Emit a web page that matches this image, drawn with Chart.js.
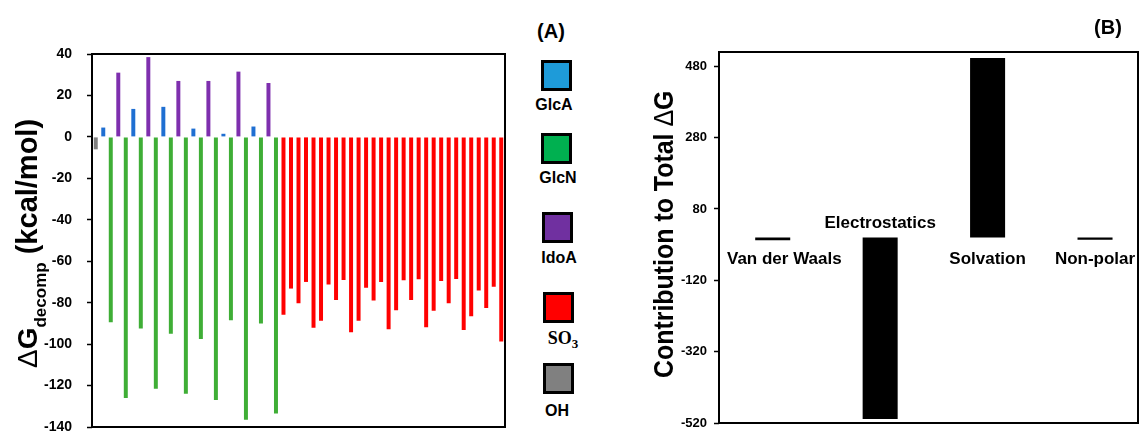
<!DOCTYPE html>
<html><head><meta charset="utf-8">
<script src="https://cdn.jsdelivr.net/npm/chart.js@4.4.0/dist/chart.umd.min.js"></script>
<style>
html,body{margin:0;padding:0;background:#fff;width:1139px;height:432px;overflow:hidden;position:relative;font-family:Arial,"Liberation Sans",sans-serif;}
canvas{position:absolute;top:0;}
#ca{left:0;}
#cb{left:630px;}
.panel{position:absolute;font-weight:bold;font-size:20px;transform:translate(-50%,-50%);color:#000;}
.sw{position:absolute;width:25px;height:25px;border:3px solid #000;}
.lb{position:absolute;font-weight:bold;font-size:16px;transform:translate(-50%,-50%);white-space:nowrap;color:#000;}
.lb.serif{font-family:"Liberation Serif","DejaVu Serif",serif;font-size:18px;}
</style></head>
<body>
<canvas id="ca" width="520" height="432"></canvas>
<canvas id="cb" width="509" height="432"></canvas>
<div id="legend"></div>
<div class="panel" style="left:551px;top:31px;">(A)</div>
<div class="panel" style="left:1108px;top:27px;">(B)</div>
<script>
// ---------- Panel A data ----------
const residueTypes = ['OH','GlcA','GlcN','IdoA','GlcN','GlcA','GlcN','IdoA','GlcN','GlcA','GlcN','IdoA','GlcN','GlcA','GlcN','IdoA','GlcN','GlcA','GlcN','IdoA','GlcN','GlcA','GlcN','IdoA','GlcN'];
const residueValues = [-6, 4.5, -89.5, 31, -126, 13.5, -92.5, 38.5, -121.5, 14.5, -95, 27, -124, 4, -97.5, 27, -127, 1.5, -88.5, 31.5, -136.5, 5, -90, 26, -133.5];
const sulfateValues = [-85.8, -73.2, -80.3, -70, -92.1, -88.7, -71.2, -78.7, -69.1, -94.3, -88.7, -72.8, -79, -70, -92.8, -83.6, -69.2, -78.7, -68.7, -91.9, -83.9, -69.6, -80.3, -68.6, -93.2, -86.6, -74.1, -82.6, -72.3, -98.8];
const yTicksA = [40, 20, 0, -20, -40, -60, -80, -100, -120, -140];
const legendNames = ['GlcA', 'GlcN', 'IdoA', 'SO3', 'OH'];

// ---------- Panel B data ----------
const termLabels = ['Van der Waals', 'Electrostatics', 'Solvation', 'Non-polar'];
const termValues = [-8, -509, 503, -6];
const yTicksB = [480, 280, 80, -120, -320, -520];
const termLabelAbove = [false, true, false, false];

// ---------- styles ----------
const FONT = 'Arial, "Liberation Sans", sans-serif';
const barColors = {GlcA:'#1f6fd2', GlcN:'#3fae36', IdoA:'#7e2fae', SO3:'#ff0000', OH:'#7f7f7f'};
const legendColors = {GlcA:'#1e9bd9', GlcN:'#00b050', IdoA:'#7030a0', SO3:'#ff0000', OH:'#808080'};

// legend
const legendBoxes = [[541,60],[541,133],[542,212],[543,292],[543,363]];
const legendText = [[554,105],[558,178],[559,258],[563,340],[557,411]];
const legendEl = document.getElementById('legend');
legendNames.forEach((n, i) => {
  const s = document.createElement('div');
  s.className = 'sw';
  s.style.left = legendBoxes[i][0] + 'px';
  s.style.top = legendBoxes[i][1] + 'px';
  s.style.background = legendColors[n];
  legendEl.appendChild(s);
  const t = document.createElement('div');
  t.className = 'lb' + (n === 'SO3' ? ' serif' : '');
  t.style.left = legendText[i][0] + 'px';
  t.style.top = legendText[i][1] + 'px';
  if (n === 'SO3') t.innerHTML = 'SO<sub style="font-size:13px;">3</sub>';
  else t.textContent = n;
  legendEl.appendChild(t);
});

const allTypes = residueTypes.concat(sulfateValues.map(() => 'SO3'));
const allValues = residueValues.concat(sulfateValues);

const boxPlugin = {
  id: 'box',
  afterDraw(chart) {
    const a = chart.chartArea, ctx = chart.ctx;
    ctx.save();
    ctx.strokeStyle = '#000';
    ctx.lineWidth = 2;
    ctx.strokeRect(a.left, a.top, a.right - a.left, a.bottom - a.top);
    ctx.restore();
  }
};

function drawRotated(ctx, cx, cy, parts, sx) {
  ctx.save();
  ctx.translate(cx, cy);
  ctx.rotate(-Math.PI / 2);
  ctx.scale(sx, 1);
  ctx.fillStyle = '#000';
  ctx.textBaseline = 'alphabetic';
  ctx.textAlign = 'left';
  let u = 0;
  parts.forEach(p => {
    ctx.font = p.font;
    ctx.fillText(p.t, u, p.v);
    u += ctx.measureText(p.t).width;
  });
  ctx.restore();
}

const titleA = {
  id: 'titleA',
  afterDraw(chart) {
    drawRotated(chart.ctx, 27, 368, [
      {t:'Δ', font:'28px ' + FONT, v:10},
      {t:'G', font:'bold 28px ' + FONT, v:10},
      {t:'decomp', font:'bold 17px ' + FONT, v:19},
      {t:' (kcal/mol)', font:'bold 29px ' + FONT, v:10}
    ], 1);
  }
};

const chartA = new Chart(document.getElementById('ca'), {
  type: 'bar',
  data: {
    labels: allValues.map((_, i) => String(i + 1)),
    datasets: [{
      data: allValues,
      backgroundColor: allTypes.map(t => barColors[t]),
      borderWidth: 0,
      barPercentage: 0.53,
      categoryPercentage: 1
    }]
  },
  options: {
    responsive: false,
    animation: false,
    layout: {padding: {left: 0, right: 15, top: 54, bottom: 5}},
    plugins: {legend: {display: false}, tooltip: {enabled: false}},
    scales: {
      x: {
        type: 'category', offset: true, display: false
      },
      y: {
        min: -140, max: 40,
        afterBuildTicks: s => { s.ticks = yTicksA.map(v => ({value: v})); },
        ticks: {color: '#000', font: {family: FONT, size: 14, weight: 'bold'}, padding: 15},
        grid: {drawOnChartArea: false, drawTicks: true, tickLength: 5, tickColor: '#000', tickWidth: 1.5},
        border: {display: false},
        afterFit: s => { s.width = 92; s.paddingTop = 0; s.paddingBottom = 0; }
      }
    }
  },
  plugins: [boxPlugin, titleA]
});

const titleB = {
  id: 'titleB',
  afterDraw(chart) {
    drawRotated(chart.ctx, 663 - 630, 378, [
      {t:'Contribution to Total ', font:'bold 28px ' + FONT, v:10},
      {t:'Δ', font:'28px ' + FONT, v:10},
      {t:'G', font:'bold 28px ' + FONT, v:10}
    ], 0.89);
  }
};

const termLabelPlugin = {
  id: 'termLabels',
  afterDraw(chart) {
    const ctx = chart.ctx, xs = chart.scales.x, ys = chart.scales.y, a = chart.chartArea;
    const y0 = ys.getPixelForValue(0);
    ctx.save();
    ctx.font = 'bold 17px ' + FONT;
    ctx.fillStyle = '#000';
    ctx.textBaseline = 'middle';
    ctx.textAlign = 'left';
    termLabels.forEach((t, i) => {
      const w = ctx.measureText(t).width;
      let x = xs.getPixelForValue(i) - w / 2;
      if (x < a.left + 8) x = a.left + 8;
      if (x + w > a.right - 2) x = a.right - 2 - w;
      const y = termLabelAbove[i] ? y0 - 14 : y0 + 22;
      ctx.fillText(t, x, y);
    });
    ctx.restore();
  }
};

const chartB = new Chart(document.getElementById('cb'), {
  type: 'bar',
  data: {
    datasets: [{
      data: termValues.map((v, i) => ({x: i, y: v})),
      backgroundColor: '#000',
      borderWidth: 0,
      barPercentage: 0.326,
      categoryPercentage: 1
    }]
  },
  options: {
    responsive: false,
    animation: false,
    layout: {padding: {left: 0, right: 1, top: 52, bottom: 9}},
    plugins: {legend: {display: false}, tooltip: {enabled: false}},
    scales: {
      x: {
        type: 'linear', min: -0.5, max: 3.4, offset: false,
        display: false,
        afterBuildTicks: s => { s.ticks = termValues.map((_, i) => ({value: i})); }
      },
      y: {
        min: -520, max: 520,
        afterBuildTicks: s => { s.ticks = yTicksB.map(v => ({value: v})); },
        ticks: {color: '#000', font: {family: FONT, size: 13, weight: 'bold'}, padding: 7},
        grid: {drawOnChartArea: false, drawTicks: true, tickLength: 5, tickColor: '#000', tickWidth: 1.5},
        border: {display: false},
        afterFit: s => { s.width = 89; s.paddingTop = 0; s.paddingBottom = 0; }
      }
    }
  },
  plugins: [boxPlugin, titleB, termLabelPlugin]
});
</script>
</body></html>
